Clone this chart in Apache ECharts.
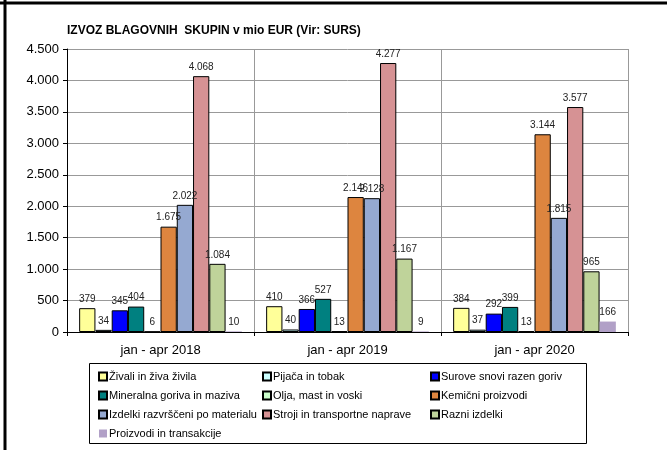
<!DOCTYPE html>
<html>
<head>
<meta charset="utf-8">
<script src="https://cdn.jsdelivr.net/npm/echarts@6/dist/echarts.min.js"></script>
<style>
    html, body { margin: 0; padding: 0; background: #fff; }
    #chart { width: 667px; height: 450px; }
</style>
</head>
<body>
<div id="chart"></div>
<script>
    // periods on the x axis
    const periods = ['jan - apr 2018', 'jan - apr 2019', 'jan - apr 2020'];

    // export by product group, mio EUR
    const zivali = [379, 410, 384];
    const pijaca = [34, 40, 37];
    const surove = [345, 366, 292];
    const mineralna = [404, 527, 399];
    const olja = [6, 13, 13];
    const kemicni = [1675, 2146, 3144];
    const izdelki = [2022, 2128, 1815];
    const stroji = [4068, 4277, 3577];
    const razni = [1084, 1167, 965];
    const transakcije = [10, 9, 166];

    const seriesNames = [
        'Živali in živa živila', 'Pijača in tobak', 'Surove snovi razen goriv',
        'Mineralna goriva in maziva', 'Olja, mast in voski', 'Kemični proizvodi',
        'Izdelki razvrščeni po materialu', 'Stroji in transportne naprave', 'Razni izdelki',
        'Proizvodi in transakcije'
    ];
    const seriesData = [zivali, pijaca, surove, mineralna, olja, kemicni, izdelki, stroji, razni, transakcije];
    const colors = ['#FFFF99', '#CCFFFF', '#0000FF', '#008080', '#CCFFCC', '#DD853F', '#95A9D1', '#D69294', '#BFD39A', '#B1A0C7'];

    const fmt = v => String(v).replace(/\B(?=(\d{3})+(?!\d))/g, '.');

    const font = 'Liberation Sans, Arial, sans-serif';

    let series = seriesData.map((d, i) => ({
        name: seriesNames[i],
        type: 'bar',
        data: d,
        barGap: '0%',
        barCategoryGap: '13%',
        itemStyle: {
            color: colors[i],
            borderColor: i === 9 ? colors[i] : '#000',
            borderWidth: i === 9 ? 0 : 1
        },
        label: {
            show: true,
            position: 'top',
            distance: 4,
            fontFamily: font,
            fontSize: 10,
            color: '#222',
            formatter: p => fmt(p.value)
        }
    }));

    // legend laid out in three columns like the original
    const columns = [
        [0, 3, 6, 9],
        [1, 4, 7],
        [2, 5, 8]
    ];
    const colLeft = [93, 257, 425];
    let legends = columns.map((c, k) => ({
        orient: 'vertical',
        left: colLeft[k],
        top: 366,
        itemWidth: 8,
        itemHeight: 8,
        itemGap: 8,
        icon: 'rect',
        selectedMode: false,
        textStyle: { fontFamily: font, fontSize: 11, color: '#000', padding: [0, 0, 0, -3] },
        data: c.map(i => seriesNames[i])
    }));

    let chart = echarts.init(document.getElementById('chart'));
    chart.setOption({
        animation: false,
        title: {
            text: 'IZVOZ BLAGOVNIH  SKUPIN v mio EUR (Vir: SURS)',
            left: 62,
            top: 20,
            textStyle: { fontFamily: font, fontSize: 12, fontWeight: 'bold', color: '#000' }
        },
        legend: legends,
        grid: { left: 67, right: 39, top: 49, bottom: 118 },
        xAxis: {
            type: 'category',
            data: periods,
            axisLine: { lineStyle: { color: '#000' } },
            axisTick: { show: true, length: 4, lineStyle: { color: '#000' } },
            splitLine: { show: true, lineStyle: { color: '#999' } },
            axisLabel: { fontFamily: font, fontSize: 13, color: '#000', margin: 12 }
        },
        yAxis: {
            type: 'value',
            min: 0,
            max: 4500,
            interval: 500,
            axisLine: { show: true, lineStyle: { color: '#000' } },
            axisTick: { show: true, length: 4, lineStyle: { color: '#000' } },
            splitLine: { lineStyle: { color: '#999' } },
            axisLabel: { fontFamily: font, fontSize: 13, color: '#000', margin: 8, formatter: v => fmt(v) }
        },
        graphic: [
            { type: 'rect', shape: { x: 89.5, y: 363.5, width: 497, height: 80 }, style: { fill: 'none', stroke: '#000', lineWidth: 1 } },
            { type: 'line', shape: { x1: 0, y1: 3, x2: 667, y2: 3 }, style: { stroke: '#000', lineWidth: 3 } },
            { type: 'line', shape: { x1: 5, y1: 0, x2: 5, y2: 450 }, style: { stroke: '#000', lineWidth: 3 } }
        ],
        series: series
    });
</script>
</body>
</html>
